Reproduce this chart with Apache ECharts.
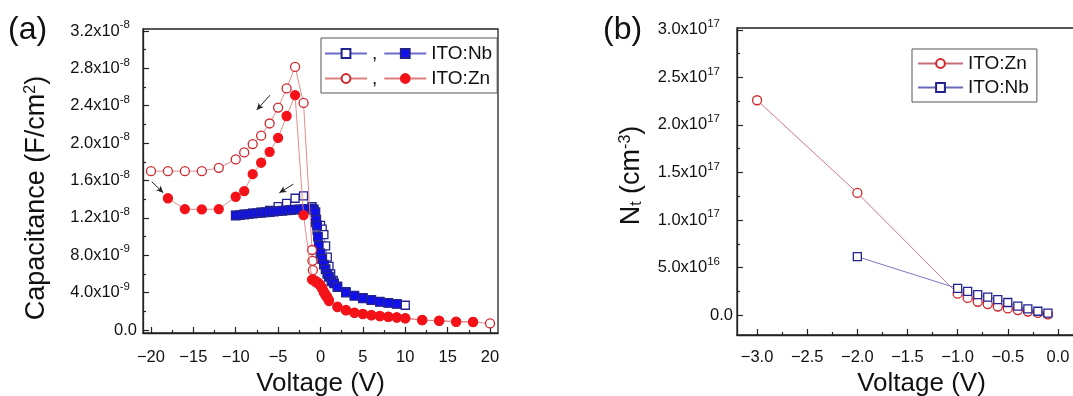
<!DOCTYPE html>
<html>
<head>
<meta charset="utf-8">
<script src="https://cdn.jsdelivr.net/npm/echarts@6/dist/echarts.min.js"></script>
<style>html,body{margin:0;padding:0;background:#fff;}#c{width:1073px;height:396px;}</style>
</head>
<body>
<div id="c"></div>
<script>
// ---------- Panel (a): capacitance (units of 1e-8 F/cm^2) vs voltage ----------
const vNbOpen = [-10,-9,-8,-7,-6,-5,-4,-3,-2,-1,-0.8,-0.6,-0.4,-0.2,0,0.2,0.4,0.6,0.8,1,1.2,1.5,2,3,4,5,6,7,8,9,10];
const cNbOpen = [1.23,1.24,1.25,1.26,1.28,1.32,1.355,1.41,1.435,1.32,1.28,1.15,1.07,1.10,1.12,1.08,1.02,0.90,0.78,0.68,0.60,0.53,0.47,0.41,0.37,0.345,0.325,0.305,0.29,0.28,0.265];
const vNbFilled = [-10,-9.5,-9,-8.5,-8,-7.5,-7,-6.5,-6,-5.5,-5,-4.5,-4,-3.5,-3,-2.5,-2,-1.5,-1,-0.8,-0.6,-0.5,-0.4,-0.3,-0.2,0,0.2,0.4,0.6,0.8,1,1.3,1.6,2,3,4,5,6,7,8,9];
const cNbFilled = [1.225,1.23,1.235,1.24,1.245,1.25,1.255,1.26,1.263,1.268,1.272,1.276,1.28,1.284,1.288,1.29,1.293,1.296,1.30,1.29,1.26,1.18,1.12,1.0,0.9,0.82,0.76,0.70,0.65,0.60,0.57,0.52,0.50,0.46,0.40,0.365,0.34,0.32,0.30,0.29,0.28];
const vZnOpen = [-20,-18,-16,-14,-12,-10,-9,-8,-7,-6,-5,-4,-3,-2,-1,-0.95,-0.9,-0.6,-0.4,-0.2,0,0.2,0.4,0.6,0.8,1,2,3,4,5,6,7,8,9,10,12,14,16,18,20];
const cZnOpen = [1.70,1.70,1.70,1.70,1.735,1.825,1.90,1.99,2.08,2.21,2.38,2.585,2.815,2.43,0.856,0.74,0.64,0.515,0.505,0.49,0.47,0.44,0.40,0.37,0.345,0.31,0.245,0.21,0.183,0.17,0.158,0.148,0.14,0.134,0.125,0.105,0.098,0.088,0.085,0.07];
const vZnFilled = [-18,-16,-14,-12,-10,-9,-8,-7,-6,-5,-4,-3,-2,-1,-0.8,-0.6,-0.4,-0.2,0,0.2,0.4,0.6,0.8,1,2,3,4,5,6,7,8,9,10,12,14,16,18];
const cZnFilled = [1.41,1.294,1.29,1.294,1.426,1.487,1.668,1.79,1.907,2.057,2.29,2.513,1.23,0.54,0.535,0.525,0.515,0.50,0.48,0.45,0.41,0.38,0.355,0.32,0.25,0.214,0.186,0.172,0.16,0.15,0.142,0.136,0.127,0.107,0.10,0.09,0.088];
// arrows: [fromV, fromC, toV, toC]
const arrowsA = [[-19.9,1.586,-18.55,1.468],[-5.96,2.513,-7.53,2.353],[-3.2,1.561,-4.86,1.468]];
const xTicksA = [-20,-15,-10,-5,0,5,10,15,20];
const xMinorA = [-17.5,-12.5,-7.5,-2.5,2.5,7.5,12.5,17.5];
const yTicksA = [0,0.4,0.8,1.2,1.6,2.0,2.4,2.8,3.2];
const yTickMainA = ['0.0','4.0x10','8.0x10','1.2x10','1.6x10','2.0x10','2.4x10','2.8x10','3.2x10'];
const yTickExpA = ['','-9','-9','-8','-8','-8','-8','-8','-8'];
const yMinorA = [0.2,0.6,1.0,1.4,1.8,2.2,2.6,3.0];
const legendTextA = {NbOpen: ',', NbFilled: 'ITO:Nb', ZnOpen: ',', ZnFilled: 'ITO:Zn'};

// ---------- Panel (b): N_t (units of 1e17 cm^-3) vs voltage ----------
const vZnB = [-3,-2,-1,-0.9,-0.8,-0.7,-0.6,-0.5,-0.4,-0.3,-0.2,-0.1];
const nZnB = [2.26,1.285,0.225,0.18,0.14,0.115,0.09,0.07,0.052,0.037,0.022,0.008];
const vNbB = [-2,-1,-0.9,-0.8,-0.7,-0.6,-0.5,-0.4,-0.3,-0.2,-0.1];
const nNbB = [0.614,0.28,0.25,0.215,0.188,0.162,0.132,0.093,0.065,0.04,0.02];
const xTicksB = [-3,-2.5,-2,-1.5,-1,-0.5,0];
const xMinorB = [-2.75,-2.25,-1.75,-1.25,-0.75,-0.25];
const yTicksB = [0,0.5,1.0,1.5,2.0,2.5,3.0];
const yTickMainB = ['0.0','5.0x10','1.0x10','1.5x10','2.0x10','2.5x10','3.0x10'];
const yTickExpB = ['','16','17','17','17','17','17'];
const yMinorB = [0.25,0.75,1.25,1.75,2.25,2.75];

const FONT = 'Liberation Sans';
const zip = (a, b) => a.map((v, i) => [v, b[i]]);
const minusFmt = (v, d) => (v < 0 ? '\u2212' : '') + Math.abs(v).toFixed(d);

function supLabel(vals, mains, exps) {
  return function (v) {
    let i = vals.findIndex(t => Math.abs(t - v) < 1e-9);
    if (i < 0) return '';
    return exps[i] ? '{m|' + mains[i] + '}{s|' + exps[i] + '}' : '{m|' + mains[i] + '}';
  };
}

const axisLineStyle = {show: true, onZero: false, lineStyle: {color: '#222', width: 1.3}};

function mainX(grid, min, max, ticks, fmt, margin, name, namePad, nameGap) {
  return {
    type: 'value', gridIndex: grid, min: min, max: max,
    axisLine: axisLineStyle, splitLine: {show: false},
    axisTick: {show: true, inside: true, length: 6, customValues: ticks, lineStyle: {color: '#222', width: 1.2}},
    axisLabel: {show: true, customValues: ticks, formatter: fmt, margin: margin, fontSize: 16.5, fontFamily: FONT, color: '#111'},
    name: name, nameLocation: 'middle', nameGap: nameGap,
    nameTextStyle: {fontSize: 26, fontFamily: FONT, color: '#111', padding: namePad}
  };
}
function minorAxis(type, grid, min, max, ticks) {
  return {
    type: 'value', gridIndex: grid, min: min, max: max,
    position: type === 'x' ? 'bottom' : 'left',
    axisLine: {show: false, onZero: false}, splitLine: {show: false}, axisLabel: {show: false},
    axisTick: {show: true, inside: true, length: 3, customValues: ticks, lineStyle: {color: '#222', width: 1.2}}
  };
}
function mainY(grid, min, max, ticks, mains, exps, margin, supPad, name, nameRich, namePad, nameGap) {
  return {
    type: 'value', gridIndex: grid, min: min, max: max,
    axisLine: axisLineStyle, splitLine: {show: false},
    axisTick: {show: true, inside: true, length: 6, customValues: ticks, lineStyle: {color: '#222', width: 1.2}},
    axisLabel: {
      show: true, customValues: ticks, formatter: supLabel(ticks, mains, exps), margin: margin,
      rich: {
        m: {fontSize: 16.5, fontFamily: FONT, color: '#111', lineHeight: 24},
        s: {fontSize: 11.5, fontFamily: FONT, color: '#111', verticalAlign: 'top', padding: [0, supPad, 0, 0]}
      }
    },
    name: name, nameLocation: 'middle', nameRotate: 90, nameGap: nameGap,
    nameTextStyle: {padding: namePad, rich: nameRich}
  };
}

const nameN = {fontSize: 27, fontFamily: FONT, color: '#111'};
const yNameRichA = {n: nameN, s: {fontSize: 16, fontFamily: FONT, color: '#111', verticalAlign: 'top'}};
const yNameRichB = {n: nameN, s: {fontSize: 16, fontFamily: FONT, color: '#111', verticalAlign: 'top'}, b: {fontSize: 16, fontFamily: FONT, color: '#111', verticalAlign: 'bottom'}};

const redStroke = '#d0262b', redFill = '#f41218', redLine = '#e08080';
const blueStroke = '#23238f', blueFill = '#1010ee', blueLine = '#6d6dcc';

function ser(name, xi, yi, data, symbol, size, fill, stroke, lineColor, z) {
  return {
    name: name, type: 'line', xAxisIndex: xi, yAxisIndex: yi, data: data,
    symbol: symbol, symbolSize: size, showSymbol: true, z: z,
    lineStyle: {color: lineColor, width: 0.9},
    itemStyle: {color: fill, borderColor: stroke, borderWidth: 1.3},
    emphasis: {disabled: true}
  };
}

const sNbOpen = ser('NbOpen', 0, 0, zip(vNbOpen, cNbOpen), 'rect', 8, '#fff', blueStroke, blueLine, 2);
const sNbFilled = ser('NbFilled', 0, 0, zip(vNbFilled, cNbFilled), 'rect', 8.5, blueFill, blueStroke, blueLine, 3);
const sZnOpen = ser('ZnOpen', 0, 0, zip(vZnOpen, cZnOpen), 'circle', 9, '#fff', redStroke, redLine, 4);
const sZnFilled = ser('ZnFilled', 0, 0, zip(vZnFilled, cZnFilled), 'circle', 9, redFill, redFill, redLine, 5);
sZnOpen.markLine = {
  silent: true, symbol: ['none', 'arrow'], symbolSize: [5, 7], animation: false,
  lineStyle: {color: '#222', width: 1, type: 'solid'}, label: {show: false},
  data: arrowsA.map(a => [{coord: [a[0], a[1]]}, {coord: [a[2], a[3]]}])
};
const sZnB = ser('ITO:Zn', 2, 2, zip(vZnB, nZnB), 'circle', 9, '#fff', redStroke, '#c96a78', 2);
const sNbB = ser('ITO:Nb', 2, 2, zip(vNbB, nNbB), 'rect', 8, '#fff', blueStroke, '#6a6ab8', 3);

const option = {
  animation: false,
  backgroundColor: '#fff',
  grid: [
    {left: 143, top: 29, width: 355, height: 304, show: true, borderColor: '#222', borderWidth: 1.3, containLabel: false, outerBoundsMode: 'none'},
    {left: 737, top: 28, width: 341, height: 307, show: true, borderColor: '#222', borderWidth: 1.3, containLabel: false, outerBoundsMode: 'none'}
  ],
  xAxis: [
    mainX(0, -20.94, 20.94, xTicksA, v => minusFmt(v, 0), 16, 'Voltage (V)', [0, 0, 0, 0], 38),
    minorAxis('x', 0, -20.94, 20.94, xMinorA),
    mainX(1, -3.2, 0.2, xTicksB, v => minusFmt(v, 1), 14, 'Voltage (V)', [0, 0, 0, 28], 36),
    minorAxis('x', 1, -3.2, 0.2, xMinorB)
  ],
  yAxis: [
    mainY(0, -0.032, 3.221, yTicksA, yTickMainA, yTickExpA, 6, 7,
      '{n|Capacitance (F/cm}{s|2}{n|)}', yNameRichA, [0, 34, 0, 0], 93),
    minorAxis('y', 0, -0.032, 3.221, yMinorA),
    mainY(1, -0.21, 3.02, yTicksB, yTickMainB, yTickExpB, 4, 13,
      '{n|N}{b|t}{n| (cm}{s|-3}{n|)}', yNameRichB, [0, 0, 0, 12], 92),
    minorAxis('y', 1, -0.21, 3.02, yMinorB)
  ],
  legend: [
    {
      data: ['NbOpen', 'NbFilled', '', 'ZnOpen', 'ZnFilled'],
      formatter: n => legendTextA[n],
      left: 321, top: 38, orient: 'horizontal',
      itemWidth: 42, itemHeight: 11, itemGap: 6,
      padding: [6, 5, 5, 3], borderColor: '#555', borderWidth: 1,
      textStyle: {fontSize: 19, fontFamily: FONT, color: '#111'},
      selectedMode: false
    },
    {
      data: ['ITO:Zn', 'ITO:Nb'],
      left: 912, top: 49, orient: 'vertical',
      itemWidth: 45, itemHeight: 11, itemGap: 5,
      padding: [5, 8, 5, 5], borderColor: '#555', borderWidth: 1,
      textStyle: {fontSize: 19, fontFamily: FONT, color: '#111'},
      selectedMode: false
    }
  ],
  graphic: [
    {type: 'text', left: 8, top: 14, style: {text: '(a)', fontSize: 32, fontFamily: FONT, fill: '#111'}},
    {type: 'text', left: 603, top: 14, style: {text: '(b)', fontSize: 32, fontFamily: FONT, fill: '#111'}}
  ],
  series: [sNbOpen, sNbFilled, sZnOpen, sZnFilled, sZnB, sNbB]
};

const chart = echarts.init(document.getElementById('c'), null, {renderer: 'canvas'});
chart.setOption(option);
</script>
</body>
</html>
